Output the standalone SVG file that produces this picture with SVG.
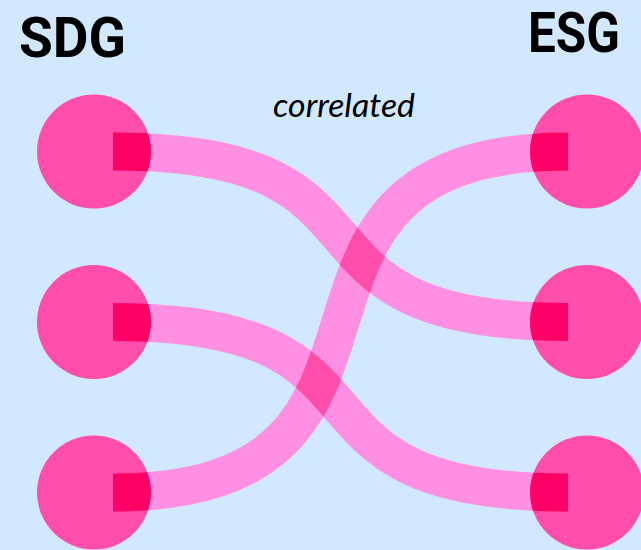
<svg xmlns="http://www.w3.org/2000/svg" xmlns:xlink="http://www.w3.org/1999/xlink" width="641" height="550" viewBox="0 0 641 550">
  <style>
    .title { font-family: Roboto, Lato, "Liberation Sans", sans-serif; font-weight: 700; font-size: 56px; fill: #000; }
    .label { font-family: Lato, "Open Sans", "Liberation Sans", sans-serif; font-style: italic; font-size: 32px; fill: #000; }
    .node { fill: #FF4DAB; }
    .link { stroke: #FF8FE3; stroke-width: 38; stroke-linecap: butt; }
    .cross { stroke: #FF4DAB; stroke-width: 38; stroke-linecap: butt; }
    .join { stroke: #FF0066; stroke-width: 38; stroke-linecap: butt; }
    .maskline { stroke: #fff; stroke-width: 38; stroke-linecap: butt; }
  </style>
  <defs>
    <path id="l1" fill="none" d="M113,151.5 C423,151.5 258,322 568,322"/>
    <path id="l2" fill="none" d="M113,322 C423,322 258,492.5 568,492.5"/>
    <path id="l3" fill="none" d="M113,492.5 C463,492.5 218,151.5 568,151.5"/>
    <mask id="overlap" maskUnits="userSpaceOnUse" x="0" y="0" width="641" height="550">
      <use xlink:href="#l1" href="#l1" class="maskline"/>
      <use xlink:href="#l2" href="#l2" class="maskline"/>
    </mask>
    <clipPath id="circles">
      <circle cx="94" cy="151.5" r="57"/>
      <circle cx="94" cy="322" r="57"/>
      <circle cx="94" cy="492.5" r="57"/>
      <circle cx="587" cy="151.5" r="57"/>
      <circle cx="587" cy="322" r="57"/>
      <circle cx="587" cy="492.5" r="57"/>
    </clipPath>
  </defs>
  <rect x="0" y="0" width="641" height="550" fill="#D1E8FF"/>

  <g id="connectors">
    <use xlink:href="#l1" href="#l1" class="link"/>
    <use xlink:href="#l2" href="#l2" class="link"/>
    <use xlink:href="#l3" href="#l3" class="link"/>
    <use xlink:href="#l3" href="#l3" class="cross" mask="url(#overlap)"/>
  </g>

  <g id="sdg1"><circle class="node" cx="94" cy="151.5" r="57"/></g>
  <g id="sdg2"><circle class="node" cx="94" cy="322" r="57"/></g>
  <g id="sdg3"><circle class="node" cx="94" cy="492.5" r="57"/></g>
  <g id="esg1"><circle class="node" cx="587" cy="151.5" r="57"/></g>
  <g id="esg2"><circle class="node" cx="587" cy="322" r="57"/></g>
  <g id="esg3"><circle class="node" cx="587" cy="492.5" r="57"/></g>

  <g id="connector-ends" clip-path="url(#circles)">
    <use xlink:href="#l1" href="#l1" class="join"/>
    <use xlink:href="#l2" href="#l2" class="join"/>
    <use xlink:href="#l3" href="#l3" class="join"/>
  </g>

  <g id="labels">
    <text class="title" x="19" y="56.5" textLength="107" lengthAdjust="spacingAndGlyphs">SDG</text>
    <text class="title" x="620" y="52" text-anchor="end" textLength="92" lengthAdjust="spacingAndGlyphs">ESG</text>
    <text class="label" x="273" y="116.7" textLength="142" lengthAdjust="spacingAndGlyphs">correlated</text>
  </g>
</svg>
